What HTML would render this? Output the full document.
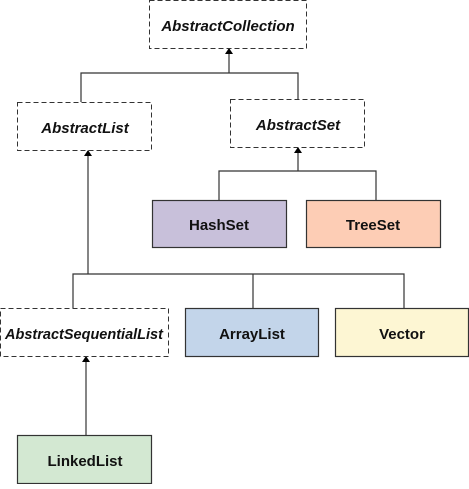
<!DOCTYPE html>
<html><head><style>body{margin:0;background:#fff}</style></head><body>
<svg width="469" height="484" xmlns="http://www.w3.org/2000/svg" font-family="Liberation Sans, Arial, sans-serif" font-size="15" font-weight="bold">
<defs><marker id="a" markerWidth="6" markerHeight="8" refX="5" refY="4" orient="auto" markerUnits="userSpaceOnUse"><path d="M0,0 L6,4 L0,8 z" fill="#000"/></marker></defs>
<g stroke="#333" stroke-width="1.2" fill="none">
<path d="M229,73 V49" marker-end="url(#a)"/>
<path d="M81,102 V73 H298 V99"/>
<path d="M298,171 V148" marker-end="url(#a)"/>
<path d="M219,200 V171 H376 V200"/>
<path d="M88,274 V151" marker-end="url(#a)"/>
<path d="M73,308 V274 H404 V308 M253,274 V308"/>
<path d="M86,435 V357" marker-end="url(#a)"/>
</g>
<g stroke="#333" stroke-width="1" stroke-dasharray="5,3" fill="#fff">
<rect x="149.5" y="0.5" width="157" height="48"/>
<rect x="17.5" y="102.5" width="134" height="48"/>
<rect x="230.5" y="99.5" width="134" height="48"/>
<rect x="0.5" y="308.5" width="168" height="48"/>
</g>
<g stroke="#333" stroke-width="1.2">
<rect x="152.5" y="200.5" width="134" height="47" fill="#c8c0da"/>
<rect x="306.5" y="200.5" width="134" height="47" fill="#fdcdb5"/>
<rect x="185.5" y="308.5" width="133" height="48" fill="#c3d5ea"/>
<rect x="335.5" y="308.5" width="133" height="48" fill="#fdf6d3"/>
<rect x="17.5" y="435.5" width="134" height="48" fill="#d3e8d2"/>
</g>
<g text-anchor="middle" fill="#111">
<text x="228" y="31" font-style="italic">AbstractCollection</text>
<text x="85" y="133" font-style="italic">AbstractList</text>
<text x="298" y="130" font-style="italic">AbstractSet</text>
<text x="84" y="339" font-style="italic" font-size="14.5">AbstractSequentialList</text>
<text x="219" y="230">HashSet</text>
<text x="373" y="230">TreeSet</text>
<text x="252" y="339">ArrayList</text>
<text x="402" y="339">Vector</text>
<text x="85" y="466">LinkedList</text>
</g>
</svg>
</body></html>
